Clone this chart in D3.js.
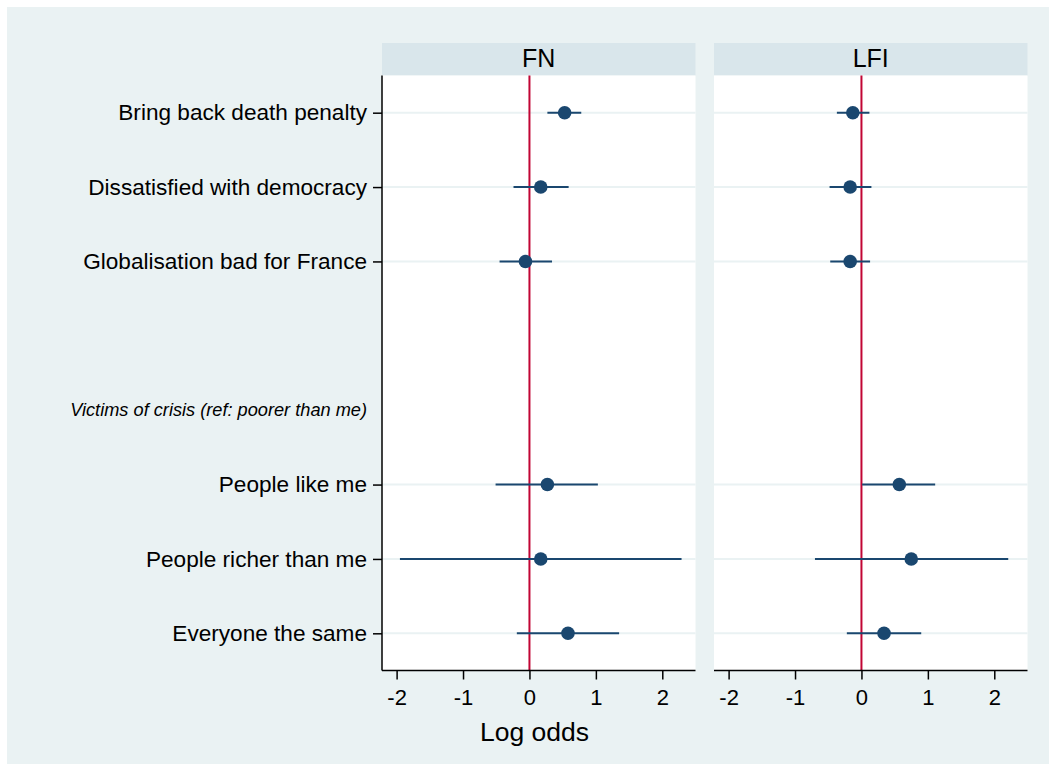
<!DOCTYPE html>
<html>
<head>
<meta charset="utf-8">
<script src="https://cdn.jsdelivr.net/npm/d3@7"></script>
<style>
  body { margin: 0; background: #fff; }
  svg { display: block; font-family: "Liberation Sans", Arial, sans-serif; }
</style>
</head>
<body>
<div id="chart"></div>
<script>
// row labels, top to bottom (position 4 is an empty gap, 5 is a group header)
const rowLabels = [
  'Bring back death penalty',
  'Dissatisfied with democracy',
  'Globalisation bad for France',
  '',
  'Victims of crisis (ref: poorer than me)',
  'People like me',
  'People richer than me',
  'Everyone the same'
];
const coefRows = [1, 2, 3, 6, 7, 8];
const panels = ['FN', 'LFI'];

const fnEst = [0.53, 0.17, -0.06, 0.27, 0.17, 0.58];
const fnLo  = [0.27, -0.24, -0.45, -0.51, -1.95, -0.19];
const fnHi  = [0.78, 0.59, 0.34, 1.03, 2.29, 1.35];

const lfiEst = [-0.13, -0.17, -0.17, 0.57, 0.75, 0.34];
const lfiLo  = [-0.37, -0.48, -0.47, 0.01, -0.70, -0.22];
const lfiHi  = [0.12, 0.15, 0.13, 1.11, 2.21, 0.90];

const xTicks = [-2, -1, 0, 1, 2];

const W = 1056, H = 771;
const svg = d3.select('#chart').append('svg').attr('width', W).attr('height', H);

svg.append('rect').attr('x', 7).attr('y', 7).attr('width', W - 14).attr('height', H - 14)
  .attr('fill', '#eaf2f3');

const plotTop = 75.5, plotBottom = 670.5, headerTop = 43;
const panelX = [[382, 695.5], [714, 1027.5]];
const y = d3.scaleLinear().domain([0.5, 8.5]).range([plotTop, plotBottom]);

const series = [
  { est: fnEst, lo: fnLo, hi: fnHi },
  { est: lfiEst, lo: lfiLo, hi: lfiHi }
];

panels.forEach((name, p) => {
  const [x0, x1] = panelX[p];
  const x = d3.scaleLinear().domain([-2.22, 2.5]).range([x0, x1]);
  const g = svg.append('g');

  // header strip
  g.append('rect').attr('x', x0).attr('y', headerTop).attr('width', x1 - x0).attr('height', plotTop - headerTop)
    .attr('fill', '#d9e6eb');
  g.append('text').attr('x', (x0 + x1) / 2).attr('y', 66.5)
    .attr('text-anchor', 'middle').attr('font-size', 25).attr('fill', '#000').text(name);

  // plot region
  g.append('rect').attr('x', x0).attr('y', plotTop).attr('width', x1 - x0).attr('height', plotBottom - plotTop)
    .attr('fill', '#fff');

  // gridlines at coefficient rows
  g.selectAll('.grid').data(coefRows).enter().append('line')
    .attr('x1', x0).attr('x2', x1)
    .attr('y1', d => y(d)).attr('y2', d => y(d))
    .attr('stroke', '#eaf2f3').attr('stroke-width', 2);

  // zero reference line
  g.append('line').attr('x1', x(0)).attr('x2', x(0)).attr('y1', plotTop).attr('y2', plotBottom)
    .attr('stroke', '#c10534').attr('stroke-width', 2);

  const s = series[p];
  const pts = coefRows.map((r, i) => ({ r, est: s.est[i], lo: s.lo[i], hi: s.hi[i] }));

  g.selectAll('.ci').data(pts).enter().append('line')
    .attr('x1', d => x(d.lo)).attr('x2', d => x(d.hi))
    .attr('y1', d => y(d.r)).attr('y2', d => y(d.r))
    .attr('stroke', '#1a476f').attr('stroke-width', 2);

  g.selectAll('.pt').data(pts).enter().append('circle')
    .attr('cx', d => x(d.est)).attr('cy', d => y(d.r)).attr('r', 6.8)
    .attr('fill', '#1a476f');

  // x axis
  const ax = g.append('g').attr('transform', `translate(0,${plotBottom})`)
    .call(d3.axisBottom(x).tickValues(xTicks).tickSize(9).tickPadding(10).tickFormat(d3.format('d')));
  ax.select('.domain').attr('stroke', '#000').attr('stroke-width', 1.5).attr('d', `M${x0},0H${x1}`);
  ax.selectAll('.tick line').attr('stroke', '#000').attr('stroke-width', 1.5);
  ax.selectAll('.tick text').attr('font-size', 22).attr('fill', '#000')
    .attr('font-family', '"Liberation Sans", Arial, sans-serif')
    .text(d => d < 0 ? '-' + Math.abs(d) : d);

  if (p === 0) {
    // y axis with labels
    const yAx = g.append('g').attr('transform', `translate(${x0},0)`)
      .call(d3.axisLeft(y).tickValues(coefRows).tickSize(9).tickPadding(6)
        .tickFormat(d => rowLabels[d - 1]));
    yAx.select('.domain').attr('stroke', '#000').attr('stroke-width', 1.5).attr('d', `M0,${plotTop}V${plotBottom}`);
    yAx.selectAll('.tick line').attr('stroke', '#000').attr('stroke-width', 1.5);
    yAx.selectAll('.tick text').attr('font-size', 22.6).attr('fill', '#000')
      .attr('font-family', '"Liberation Sans", Arial, sans-serif');

    // group header
    g.append('text').attr('x', x0 - 15).attr('y', y(5) + 6)
      .attr('text-anchor', 'end').attr('font-size', 18.2).attr('font-style', 'italic')
      .attr('fill', '#000').text(rowLabels[4]);

    g.append('text').attr('x', 534.5).attr('y', 741)
      .attr('text-anchor', 'middle').attr('font-size', 26.5).attr('fill', '#000').text('Log odds');
  }
});
</script>
</body>
</html>
